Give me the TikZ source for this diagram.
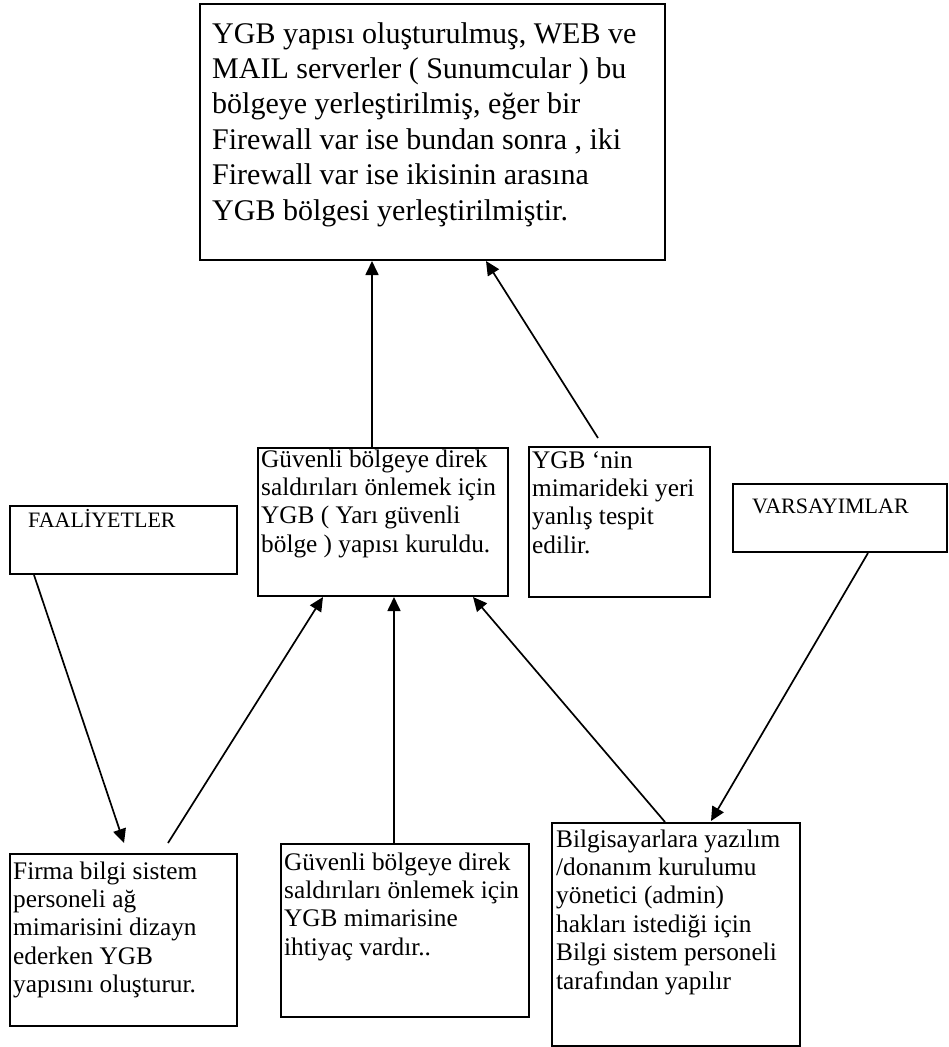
\documentclass[tikz,border=0pt]{standalone}
\usepackage{fontspec}
\setmainfont{Liberation Serif}
\usetikzlibrary{arrows.meta}
% a block of lines whose reference point is the first baseline
\newcommand\textlines[1]{\parbox[t]{480pt}{#1}}
\begin{document}
\begin{tikzpicture}[x=1pt,y=-1pt,
  box/.style={draw, line width=2pt, anchor=north west, inner sep=0pt},
  txt/.style={anchor=base west, inner sep=0pt, font=\fontsize{25.3}{28.4}\selectfont},
  bigtxt/.style={txt, font=\fontsize{30}{35.4}\selectfont},
  captxt/.style={txt, font=\fontsize{22}{26}\selectfont},
  link/.style={line width=1.7pt, -{Triangle[length=14pt,width=13pt]}}
]
\useasboundingbox (0,0) rectangle (948,1047);

% boxes
\node[box, minimum width=465pt, minimum height=256pt] (top) at (199,3) {};
\node[box, minimum width=250pt, minimum height=148pt] (cb) at (257,447) {};
\node[box, minimum width=181pt, minimum height=150pt] (ygb) at (528,446) {};
\node[box, minimum width=227pt, minimum height=68pt] (faal) at (9,505) {};
\node[box, minimum width=214pt, minimum height=68pt] (vars) at (732,483) {};
\node[box, minimum width=227pt, minimum height=172pt] (firma) at (9,853) {};
\node[box, minimum width=248pt, minimum height=173pt] (bm) at (280,843) {};
\node[box, minimum width=248pt, minimum height=223pt] (bz) at (551,822) {};

% texts
\node[bigtxt] (toptxt) at (212,43) {\textlines{YGB yapısı oluşturulmuş, WEB ve\\MAIL serverler ( Sunumcular ) bu\\bölgeye yerleştirilmiş, eğer bir\\Firewall var ise bundan sonra , iki\\Firewall var ise ikisinin arasına\\YGB bölgesi yerleştirilmiştir.}};
\node[txt] (cbtxt) at (261,467) {\textlines{Güvenli bölgeye direk\\saldırıları önlemek için\\YGB ( Yarı güvenli\\bölge ) yapısı kuruldu.}};
\node[txt] (ygbtxt) at (532,468) {\textlines{YGB ‘nin\\mimarideki yeri\\yanlış tespit\\edilir.}};
\node[captxt] (faaltxt) at (28,527) {FAALİYETLER};
\node[captxt] (varstxt) at (752,513) {VARSAYIMLAR};
\node[txt] (firmatxt) at (13,879) {\textlines{Firma bilgi sistem\\personeli ağ\\mimarisini dizayn\\ederken YGB\\yapısını oluşturur.}};
\node[txt] (bmtxt) at (284,870) {\textlines{Güvenli bölgeye direk\\saldırıları önlemek için\\YGB mimarisine\\ihtiyaç vardır..}};
\node[txt] (bztxt) at (556,847) {\textlines{Bilgisayarlara yazılım\\/donanım kurulumu\\yönetici (admin)\\hakları istediği için\\Bilgi sistem personeli\\tarafından yapılır}};

% connectors
\draw[link] ([xshift=-11pt]cb.north) -- ([xshift=-11pt]cb.north |- top.south);
\draw[link] ([xshift=-21.5pt,yshift=8pt]ygb.north) -- ([xshift=53.5pt]top.south);
\draw[link] ([xshift=-89.5pt]faal.south) -- ([xshift=0.5pt,yshift=10pt]firma.north);
\draw[link] ([xshift=44.5pt,yshift=10pt]firma.north) -- ([xshift=-60pt]cb.south);
\draw[link] ([xshift=-11pt]bm.north) -- ([xshift=11pt]cb.south);
\draw[link] ([xshift=-11pt]bz.north) -- ([xshift=90pt]cb.south);
\draw[link] ([xshift=28pt]vars.south) -- ([xshift=35pt,yshift=1pt]bz.north);
\end{tikzpicture}
\end{document}
